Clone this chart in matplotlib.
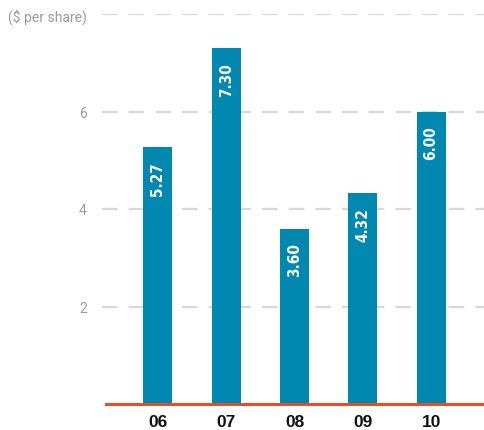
import matplotlib
matplotlib.use("Agg")
import matplotlib.pyplot as plt

categories = ["06", "07", "08", "09", "10"]
values = [5.27, 7.30, 3.60, 4.32, 6.00]
value_labels = ["5.27", "7.30", "3.60", "4.32", "6.00"]
ytick_vals = [2, 4, 6, 8]
ytick_labels = ["2", "4", "6", "($ per share)"]

W, H = 485, 431
fig = plt.figure(figsize=(W / 100, H / 100), dpi=100)
ax = fig.add_axes([102 / W, 1 - 405 / H, 383 / W, (405 - 15) / H])

x = list(range(len(categories)))
ax.bar(x, values, width=0.425, color="#0088b0", zorder=3)

ax.set_xlim(-0.82, 4.79)
ax.set_ylim(0, 8)

for yv in ytick_vals:
    ax.axhline(yv, color="#d9d9d9", lw=1.6, dashes=(7, 5), zorder=1)

ax.axhline(0, xmin=4 / 383, xmax=1, color="#d9532b", lw=2.2, zorder=4, clip_on=False)

for xi, v, lab in zip(x, values, value_labels):
    ax.annotate(lab, (xi, v), xytext=(0, -10), textcoords="offset points",
                ha="center", va="top", rotation=90, color="white",
                fontsize=11, fontweight="bold", family="DejaVu Sans",
                fontstretch="condensed", zorder=5)

ax.set_xticks(x)
ax.set_xticklabels(categories, fontsize=12.5, fontweight="bold", family="Liberation Sans", color="#111111")
ax.set_yticks(ytick_vals)
ax.set_yticklabels(ytick_labels, fontsize=10, family="Roboto", color="#9a9a9a")
ax.tick_params(axis="both", length=0)
ax.tick_params(axis="y", pad=11)
ax.tick_params(axis="x", pad=7)

for s in ax.spines.values():
    s.set_visible(False)

fig.savefig("out.png", dpi=100)
